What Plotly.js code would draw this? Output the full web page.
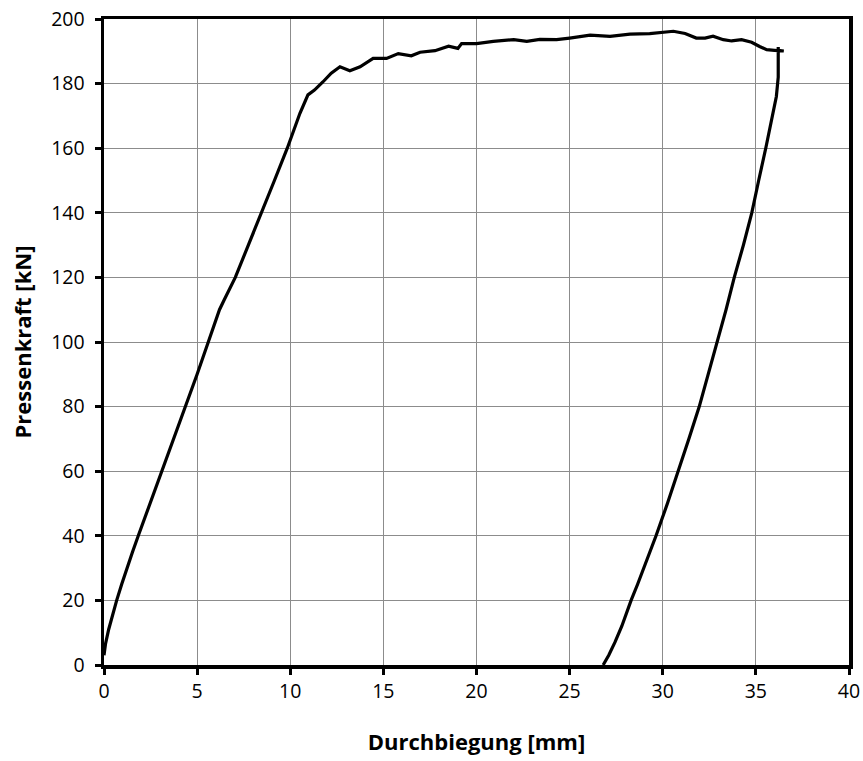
<!DOCTYPE html>
<html>
<head>
<meta charset="utf-8">
<script src="https://cdn.plot.ly/plotly-3.0.1.min.js"></script>
<style>html,body{margin:0;padding:0;background:#fff;}#chart{width:863px;height:761px;}</style>
</head>
<body>
<div id="chart"></div>
<script>
// Loading branch + unloading branch (Durchbiegung [mm], Pressenkraft [kN])
const deflection = [0.0,0.08,0.25,0.45,0.68,0.95,1.22,1.53,1.84,2.47,3.1,3.75,4.4,5.0,5.6,5.95,6.2,6.45,6.7,7.05,7.75,8.43,9.15,9.84,10.52,10.95,11.3,11.75,12.2,12.67,13.2,13.75,14.45,15.17,15.8,16.5,16.97,17.77,18.5,19.0,19.2,20.0,20.9,22.0,22.7,23.4,24.3,25.0,25.55,26.1,27.17,28.24,29.3,29.85,30.57,31.2,31.8,32.27,32.7,33.25,33.7,34.23,34.77,35.2,35.58,36.0,36.5,36.2,
  36.2,36.2,36.2,36.1,35.9,35.7,35.53,35.15,34.78,34.33,33.84,33.4,32.93,32.45,31.96,31.4,30.84,30.25,29.64,29.0,28.65,28.3,28.05,27.8,27.43,27.1,26.8];
const force = [3,6.5,11,15.5,20,25,30,35,40,50,60,70,80,90,100,106,110,113,116,120,130,140,150,160,170.8,176.5,178,180.5,183.2,185.2,184,185.2,187.8,187.8,189.3,188.6,189.7,190.2,191.6,190.9,192.4,192.4,193.1,193.6,193.1,193.7,193.6,194.1,194.6,195.0,194.6,195.3,195.5,195.9,196.2,195.5,194.1,194.1,194.7,193.6,193.2,193.6,192.8,191.5,190.5,190.3,190.1,190.3,
  191.3,186,182,176,170,165,160,150,140,130,120,110,100,90,80,70,60,50,40,30,25,20,16,12,7,3,0];
const xTicks = [0,5,10,15,20,25,30,35,40];
const yTicks = [0,20,40,60,80,100,120,140,160,180,200];

const axisFont = {family:'Open Sans, Liberation Sans, sans-serif', size:19.5, color:'#000'};
const titleFont = {family:'Open Sans, Liberation Sans, sans-serif', size:22, color:'#000', weight:'bold'};

Plotly.newPlot('chart', [{
  x: deflection, y: force, type:'scatter', mode:'lines',
  line:{color:'#000', width:3.2, shape:'linear'}, hoverinfo:'none'
}], {
  width:863, height:761,
  margin:{l:104, r:14, t:19, b:96},
  paper_bgcolor:'#fff', plot_bgcolor:'#fff',
  showlegend:false,
  xaxis:{
    range:[0,40], tickvals:xTicks, ticktext:xTicks.map(String),
    showgrid:true, gridcolor:'#8c8c8c', gridwidth:1,
    showline:true, linecolor:'#000', linewidth:3.5, mirror:true,
    ticks:'outside', ticklen:6, tickwidth:3, tickcolor:'#000',
    zeroline:false, tickfont:axisFont,
    title:{text:'Durchbiegung [mm]', font:titleFont, standoff:32}
  },
  yaxis:{
    range:[0,200], tickvals:yTicks, ticktext:yTicks.map(String),
    showgrid:true, gridcolor:'#8c8c8c', gridwidth:1,
    showline:true, linecolor:'#000', linewidth:3.5, mirror:true,
    ticks:'outside', ticklen:6, tickwidth:3, tickcolor:'#000',
    ticklabelstandoff:6,
    zeroline:false, tickfont:axisFont,
    title:{text:'Pressenkraft [kN]', font:titleFont, standoff:14}
  }
}, {displayModeBar:false, staticPlot:true});
</script>
</body>
</html>
